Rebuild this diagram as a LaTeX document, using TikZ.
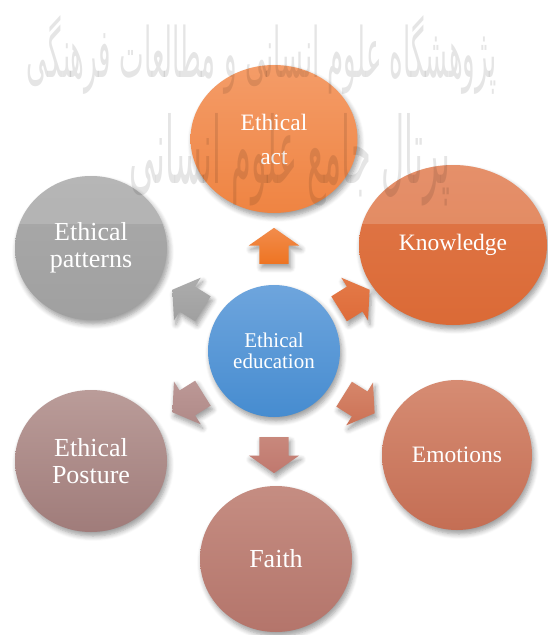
\documentclass[tikz,border=0pt]{standalone}
\usepackage{fontspec}
\setmainfont{Liberation Serif}
\newfontfamily\wmfont[Script=Arabic]{DejaVu Sans}
\TeXXeTstate=1
\usetikzlibrary{shapes.geometric,shapes.arrows,shadows.blur}
\tikzset{
  softshadow/.style={blur shadow={shadow xshift=2pt, shadow yshift=-4pt, shadow blur steps=6, shadow blur radius=5pt, shadow opacity=40}},
  bub/.style={ellipse, inner sep=0pt, text=white, align=center, softshadow},
  arr/.style={single arrow, minimum height=36pt, minimum width=50pt, single arrow head extend=10.5pt, single arrow tip angle=110, inner xsep=0pt, inner ysep=14.5pt, softshadow},
  big/.style={font=\fontsize{26}{27}\selectfont},
  mid/.style={font=\fontsize{23.5}{34}\selectfont},
  small/.style={font=\fontsize{21}{21.5}\selectfont},
  wm/.style={text=black, opacity=0.10, inner sep=0pt}
}
\begin{document}
\begin{tikzpicture}[x=1pt,y=-1pt]
\useasboundingbox (0,0) rectangle (547,635);
% outer bubbles
\node[bub, mid, minimum width=167pt, minimum height=148pt, top color={rgb,255:red,244;green,156;blue,104}, bottom color={rgb,255:red,239;green,132;blue,66}] (act) at (274,139) {Ethical\\act};
\node[bub, mid, minimum width=188pt, minimum height=160pt, top color={rgb,255:red,224;green,120;blue,74}, bottom color={rgb,255:red,219;green,106;blue,54}] (kn) at (453,245) {Knowledge};
\begin{scope}
  \clip (340,150) rectangle (560,223);
  \fill[white, opacity=0.18] (453,245) ellipse [x radius=94pt, y radius=80pt];
\end{scope}
\node[bub, mid, minimum width=150pt, minimum height=150pt, top color={rgb,255:red,214;green,140;blue,115}, bottom color={rgb,255:red,196;green,110;blue,84}] (emo) at (457,455) {Emotions};
\node[bub, big, minimum width=152pt, minimum height=146pt, top color={rgb,255:red,197;green,141;blue,130}, bottom color={rgb,255:red,180;green,117;blue,107}] (faith) at (276,559) {Faith};
\node[bub, big, minimum width=152pt, minimum height=142pt, top color={rgb,255:red,186;green,156;blue,153}, bottom color={rgb,255:red,160;green,124;blue,122}] (post) at (91,461) {Ethical\\Posture};
\node[bub, big, minimum width=152pt, minimum height=144pt, top color={rgb,255:red,170;green,170;blue,170}, bottom color={rgb,255:red,160;green,160;blue,160}] (pat) at (91,248) {Ethical\\patterns};
\begin{scope}
  \clip (0,160) rectangle (200,223);
  \fill[white, opacity=0.15] (91,248) ellipse [x radius=76pt, y radius=72pt];
\end{scope}
% centre
\node[bub, small, minimum width=132pt, minimum height=132pt, top color={rgb,255:red,110;green,165;blue,221}, bottom color={rgb,255:red,70;green,140;blue,208}] (edu) at (274,351) {Ethical\\education};
% arrows
\node[arr, rotate=90, top color={rgb,255:red,242;green,140;blue,76}, bottom color={rgb,255:red,238;green,116;blue,34}] (a1) at (274,251) {};
\node[arr, rotate=32, top color={rgb,255:red,228;green,122;blue,72}, bottom color={rgb,255:red,222;green,108;blue,58}] (a2) at (350,302) {};
\node[arr, rotate=-32, top color={rgb,255:red,214;green,134;blue,106}, bottom color={rgb,255:red,204;green,114;blue,86}] (a3) at (355,401) {};
\node[arr, rotate=-90, top color={rgb,255:red,200;green,136;blue,124}, bottom color={rgb,255:red,192;green,120;blue,110}] (a4) at (274,450) {};
\node[arr, rotate=-148, top color={rgb,255:red,188;green,152;blue,150}, bottom color={rgb,255:red,176;green,138;blue,136}] (a5) at (192,400) {};
\node[arr, rotate=148, top color={rgb,255:red,172;green,172;blue,172}, bottom color={rgb,255:red,160;green,160;blue,160}] (a6) at (192,302) {};
% watermark
\node[wm] (wm1) at (262,55) {\resizebox{470pt}{62pt}{\wmfont\beginR پژوهشگاه علوم انسانی و مطالعات فرهنگی\endR}};
\node[wm] (wm2) at (290,160) {\resizebox{320pt}{70pt}{\wmfont\beginR پرتال جامع علوم انسانی\endR}};
\end{tikzpicture}
\end{document}
